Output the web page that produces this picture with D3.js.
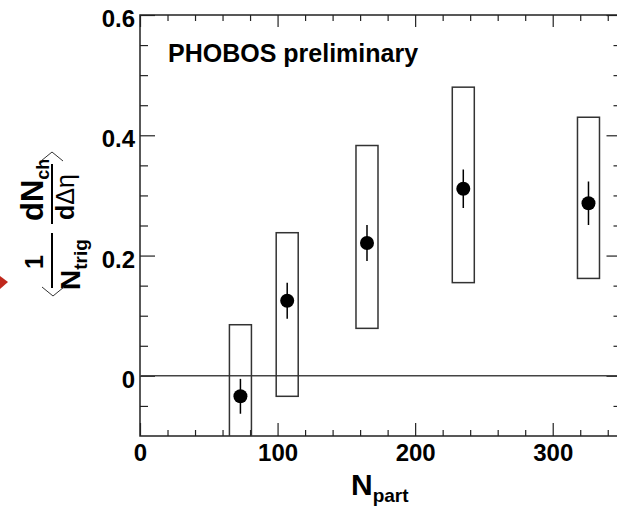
<!DOCTYPE html>
<html><head><meta charset="utf-8">
<script src="https://cdn.jsdelivr.net/npm/d3@7"></script>
<style>
body{margin:0;background:#fff}
svg{display:block}
text{font-family:"Liberation Sans",Arial,Helvetica,sans-serif;fill:#000}
</style>
</head><body>
<svg id="c" width="617" height="508"></svg>
<script>
// ---- data ----
const npart    = [73, 107, 165, 235, 326];
const yVal     = [-0.034, 0.125, 0.221, 0.311, 0.287];
const statErr  = [0.029, 0.030, 0.030, 0.032, 0.036];
const sysLow   = [-0.150, -0.034, 0.079, 0.155, 0.162];
const sysHigh  = [0.085, 0.238, 0.383, 0.480, 0.430];
const boxHalfWidth = 8;
const xTickValues = [0, 100, 200, 300];
const xTickLabels = ["0", "100", "200", "300"];
const yTickValues = [0, 0.2, 0.4, 0.6];
const yTickLabels = ["0", "0.2", "0.4", "0.6"];
const xMinorValues = [20,40,60,80,120,140,160,180,220,240,260,280,320,340];
const yMinorValues = [-0.05,0.05,0.1,0.15,0.25,0.3,0.35,0.45,0.5,0.55];

const L = 140, T = 15, R = 621.5, B = 436;
const x = d3.scaleLinear().domain([0, 350]).range([L, R]);
const y = d3.scaleLinear().domain([-0.1, 0.6]).range([B, T]);
const svg = d3.select("#c");

svg.append("defs").append("clipPath").attr("id","pc")
  .append("rect").attr("x",L).attr("y",T).attr("width",R-L).attr("height",B-T);

// ---- axes ticks ----
function styleAx(g){
  g.select(".domain").remove();
  g.selectAll("line").attr("stroke","#222").attr("stroke-width",1.2);
}
// bottom
svg.append("g").attr("transform",`translate(0,${B})`)
  .call(d3.axisBottom(x).tickValues(xTickValues).tickSize(-13).tickFormat((d,i)=>xTickLabels[i]))
  .call(styleAx)
  .call(g=>g.selectAll("text").attr("y",25).attr("dy",null)
     .style("font-size","24px").style("font-weight","bold").attr("fill","#000"));
svg.append("g").attr("transform",`translate(0,${B})`)
  .call(d3.axisBottom(x).tickValues(xMinorValues).tickSize(-6).tickFormat(""))
  .call(styleAx);
// top
svg.append("g").attr("transform",`translate(0,${T})`)
  .call(d3.axisTop(x).tickValues(xTickValues).tickSize(-12).tickFormat(""))
  .call(styleAx);
svg.append("g").attr("transform",`translate(0,${T})`)
  .call(d3.axisTop(x).tickValues(xMinorValues).tickSize(-6).tickFormat(""))
  .call(styleAx);
// left
svg.append("g").attr("transform",`translate(${L},0)`)
  .call(d3.axisLeft(y).tickValues(yTickValues).tickSize(-15).tickFormat((d,i)=>yTickLabels[i]))
  .call(styleAx)
  .call(g=>g.selectAll("text").attr("x",-5).attr("dy","11.5")
     .style("font-size","24px").style("font-weight","bold").attr("fill","#000"));
svg.append("g").attr("transform",`translate(${L},0)`)
  .call(d3.axisLeft(y).tickValues(yMinorValues).tickSize(-8).tickFormat(""))
  .call(styleAx);
// right
svg.append("g").attr("transform",`translate(${R},0)`)
  .call(d3.axisRight(y).tickValues(yTickValues).tickSize(-15).tickFormat(""))
  .call(styleAx);
svg.append("g").attr("transform",`translate(${R},0)`)
  .call(d3.axisRight(y).tickValues(yMinorValues).tickSize(-8).tickFormat(""))
  .call(styleAx);

// frame
svg.append("path").attr("d",`M${R},${T}H${L}V${B}H${R}`)
  .attr("fill","none").attr("stroke","#222").attr("stroke-width",1.5);

// zero line
svg.append("line").attr("x1",L).attr("x2",R).attr("y1",y(0)).attr("y2",y(0))
  .attr("stroke","#444").attr("stroke-width",1.5);

// ---- data marks ----
const plot = svg.append("g").attr("clip-path","url(#pc)");
const idx = d3.range(npart.length);
plot.selectAll("rect.sys").data(idx).join("rect").attr("class","sys")
  .attr("x",i=>x(npart[i]-boxHalfWidth))
  .attr("width",i=>x(npart[i]+boxHalfWidth)-x(npart[i]-boxHalfWidth))
  .attr("y",i=>y(sysHigh[i]))
  .attr("height",i=>y(sysLow[i])-y(sysHigh[i]))
  .attr("fill","none").attr("stroke","#333").attr("stroke-width",1.5);
plot.selectAll("line.err").data(idx).join("line").attr("class","err")
  .attr("x1",i=>x(npart[i])).attr("x2",i=>x(npart[i]))
  .attr("y1",i=>y(yVal[i]-statErr[i])).attr("y2",i=>y(yVal[i]+statErr[i]))
  .attr("stroke","#000").attr("stroke-width",1.5);
plot.selectAll("circle.pt").data(idx).join("circle").attr("class","pt")
  .attr("cx",i=>x(npart[i])).attr("cy",i=>y(yVal[i])).attr("r",7).attr("fill","#000");

// ---- labels ----
svg.append("text").attr("x",168).attr("y",62)
  .style("font-size","25px").style("font-weight","bold").text("PHOBOS preliminary");

const xt = svg.append("text").attr("x",351).attr("y",495).style("font-weight","bold");
xt.append("tspan").style("font-size","30px").text("N");
xt.append("tspan").style("font-size","19px").attr("dy",7).text("part");

// y title (rotated)
const yt = svg.append("g").attr("transform","translate(52,225) rotate(-90)");
yt.append("line").attr("x1",1).attr("x2",61).attr("y1",0).attr("y2",0).attr("stroke","#000").attr("stroke-width",2);
yt.append("line").attr("x1",-63).attr("x2",-8).attr("y1",0).attr("y2",0).attr("stroke","#000").attr("stroke-width",2);
const t1 = yt.append("text").attr("x",4).attr("y",-9).style("font-weight","bold");
t1.append("tspan").style("font-size","31px").text("dN");
t1.append("tspan").style("font-size","18px").attr("dy",6).text("ch");
const t2 = yt.append("text").attr("x",5).attr("y",22).style("font-size","25px");
t2.append("tspan").style("font-weight","bold").text("d");
t2.append("tspan").text("Δη");
yt.append("text").attr("x",-37).attr("y",-9).attr("text-anchor","middle")
  .style("font-size","25px").style("font-weight","bold").text("1");
const t3 = yt.append("text").attr("x",-65).attr("y",28).style("font-weight","bold");
t3.append("tspan").style("font-size","28px").text("N");
t3.append("tspan").style("font-size","19px").attr("dy",7).text("trig");
// angle brackets
svg.append("path").attr("d","M42,287L53,296L64,287").attr("fill","none").attr("stroke","#333").attr("stroke-width",1);
svg.append("path").attr("d","M41,161L52,152L63,161").attr("fill","none").attr("stroke","#333").attr("stroke-width",1);

// red arrow fragment at left edge
svg.append("path").attr("d","M0,276L8,282L0,289Z").attr("fill","#c0281c");
</script>
</body></html>
